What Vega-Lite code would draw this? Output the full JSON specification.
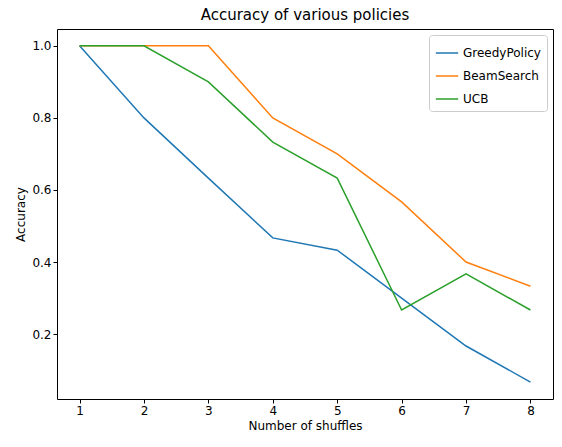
{
  "$schema": "https://vega.github.io/schema/vega-lite/v6.json",
  "width": 496,
  "height": 370,
  "autosize": {"type": "none"},
  "padding": {"left": 57, "top": 29, "right": 9, "bottom": 48},
  "title": {"text": "Accuracy of various policies", "font": "DejaVu Sans", "fontSize": 15, "fontWeight": "normal", "color": "black", "offset": 6},
  "config": {
    "font": "DejaVu Sans",
    "view": {"stroke": "black", "strokeWidth": 1},
    "axis": {"grid": false, "domain": false, "tickColor": "black", "tickSize": 4, "labelFontSize": 12, "labelColor": "black", "titleFontSize": 12, "titleFontWeight": "normal", "titleColor": "black", "labelFont": "DejaVu Sans", "titleFont": "DejaVu Sans"}
  },
  "data": {"values": [
    {"x": 1, "y": 1, "p": "GreedyPolicy"},
    {"x": 2, "y": 0.8, "p": "GreedyPolicy"},
    {"x": 3, "y": 0.633, "p": "GreedyPolicy"},
    {"x": 4, "y": 0.467, "p": "GreedyPolicy"},
    {"x": 5, "y": 0.433, "p": "GreedyPolicy"},
    {"x": 6, "y": 0.3, "p": "GreedyPolicy"},
    {"x": 7, "y": 0.167, "p": "GreedyPolicy"},
    {"x": 8, "y": 0.067, "p": "GreedyPolicy"},
    {"x": 1, "y": 1, "p": "BeamSearch"},
    {"x": 2, "y": 1, "p": "BeamSearch"},
    {"x": 3, "y": 1, "p": "BeamSearch"},
    {"x": 4, "y": 0.8, "p": "BeamSearch"},
    {"x": 5, "y": 0.7, "p": "BeamSearch"},
    {"x": 6, "y": 0.567, "p": "BeamSearch"},
    {"x": 7, "y": 0.4, "p": "BeamSearch"},
    {"x": 8, "y": 0.333, "p": "BeamSearch"},
    {"x": 1, "y": 1, "p": "UCB"},
    {"x": 2, "y": 1, "p": "UCB"},
    {"x": 3, "y": 0.9, "p": "UCB"},
    {"x": 4, "y": 0.733, "p": "UCB"},
    {"x": 5, "y": 0.633, "p": "UCB"},
    {"x": 6, "y": 0.267, "p": "UCB"},
    {"x": 7, "y": 0.367, "p": "UCB"},
    {"x": 8, "y": 0.267, "p": "UCB"}
  ]},
  "mark": {"type": "line", "strokeWidth": 1.5},
  "encoding": {
    "x": {"field": "x", "type": "quantitative", "title": "Number of shuffles", "scale": {"domain": [0.65, 8.35], "nice": false, "zero": false}, "axis": {"values": [1,2,3,4,5,6,7,8], "format": "d"}},
    "y": {"field": "y", "type": "quantitative", "title": "Accuracy", "scale": {"domain": [0.02, 1.0467], "nice": false, "zero": false}, "axis": {"values": [0.2,0.4,0.6,0.8,1.0], "format": ".1f"}},
    "color": {"field": "p", "type": "nominal", "sort": ["GreedyPolicy", "BeamSearch", "UCB"], "scale": {"domain": ["GreedyPolicy", "BeamSearch", "UCB"], "range": ["#1f77b4", "#ff7f0e", "#2ca02c"]},
      "legend": {"title": null, "orient": "top-right", "offset": 6, "symbolType": "stroke", "symbolSize": 500, "symbolStrokeWidth": 1.5, "labelFontSize": 12, "labelColor": "black", "strokeColor": "#cccccc", "fillColor": "white", "padding": 6, "cornerRadius": 3, "rowPadding": 5}}
  }
}
